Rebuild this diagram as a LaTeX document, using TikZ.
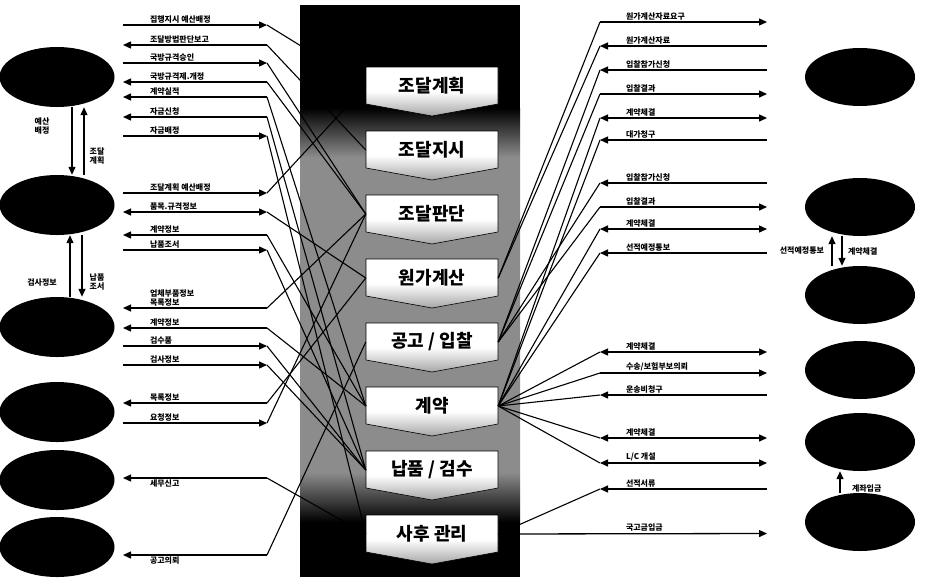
\documentclass[tikz,border=0pt]{standalone}
\usepackage{fontspec}
\setmainfont{Noto Sans CJK KR}
\usetikzlibrary{arrows.meta,shapes.geometric}
\pgfdeclareverticalshading{colfade}{100bp}{color(0bp)=(black); color(25bp)=(black); color(31bp)=(gray!90); color(69bp)=(gray!90); color(75bp)=(black); color(100bp)=(black)}
\tikzset{
  flow/.style={line width=1.3pt, >={Triangle[length=8pt,width=7pt]}},
  feed/.style={line width=1.1pt},
  flowlab/.style={font=\bfseries\fontsize{8}{9}\selectfont, inner sep=0pt, outer sep=2pt, align=left},
  stagebox/.style={font=\bfseries\fontsize{18}{19}\selectfont, inner sep=0pt, minimum width=132pt, minimum height=37pt},
  party/.style={ellipse, fill=black, minimum width=115pt, minimum height=60pt, inner sep=0pt},
}
\begin{document}
\begin{tikzpicture}[x=1pt,y=-1pt]
  \useasboundingbox (0,0) rectangle (925,579);
  % centre column
  \fill[black] (300,5) rectangle (520,577);
  \shade[shading=colfade] (300,108) rectangle (520,522);
  % stages
  \foreach \t/\txt [count=\i] in {67/조달계획,131/조달지시,195/조달판단,259/원가계산,323/{공고 / 입찰},387/계약,451/{납품 / 검수},515/{사후 관리}} {
    \shadedraw[top color=white, bottom color=gray!70, middle color=white, draw=black, line width=0.6pt]
      (366,\t) -- (498,\t) -- (498,\t+37) -- (432,\t+49) -- (366,\t+37) -- cycle;
    \node[stagebox] (s\i) at (432,\t+19) {\txt};
  }
  % parties
  \node[party] (lp1) at (57,77) {};
  \node[party] (lp2) at (57,205) {};
  \node[party] (lp3) at (57,327) {};
  \node[party] (lp4) at (57,412) {};
  \node[party] (lp5) at (57,480) {};
  \node[party] (lp6) at (57,547) {};
  \node[party, minimum width=110pt, minimum height=58pt] (rp1) at (860,77) {};
  \node[party, minimum width=110pt, minimum height=58pt] (rp2) at (860,207) {};
  \node[party, minimum width=110pt, minimum height=58pt] (rp3) at (860,295) {};
  \node[party, minimum width=110pt, minimum height=58pt] (rp4) at (860,370) {};
  \node[party, minimum width=110pt, minimum height=58pt] (rp5) at (860,442) {};
  \node[party, minimum width=110pt, minimum height=58pt] (rp6) at (860,522) {};
  % between parties
  \draw[flow,->] ([xshift=15pt]lp1.south) -- ([xshift=15pt]lp2.north);
  \draw[flow,->] ([xshift=27pt]lp2.north) -- ([xshift=27pt]lp1.south);
  \node[flowlab, align=center] (lq1) at (42,126) {예산\\배정};
  \node[flowlab, align=center] (lq2) at (97,156) {조달\\계획};
  \draw[flow,->] ([xshift=13pt]lp3.north) -- ([xshift=13pt]lp2.south);
  \draw[flow,->] ([xshift=25pt]lp2.south) -- ([xshift=25pt]lp3.north);
  \node[flowlab] (lq3) at (42,283) {검사정보};
  \node[flowlab, align=center] (lq4) at (97,282) {납품\\조서};
  \draw[flow,->] ([xshift=-28pt]rp3.north) -- ([xshift=-28pt]rp2.south);
  \draw[flow,->] ([xshift=-18pt]rp2.south) -- ([xshift=-18pt]rp3.north);
  \node[flowlab, anchor=east] (rq1) at (826,251) {선적예정통보};
  \node[flowlab, anchor=west] (rq2) at (846,251) {계약체결};
  \draw[flow,->] ([xshift=-20pt]rp6.north) -- ([xshift=-20pt]rp5.south);
  \node[flowlab, anchor=west] (rq3) at (850,488) {계좌입금};
  % left flows
  \foreach \y/\dir/\pos/\txt/\tgt [count=\n] in {
    25/->/south west/집행지시 예산배정/s1.west,
    45/<-/south west/조달방법판단보고/s2.west,
    63/->/south west/국방규격승인/s3.west,
    82/<-/south west/국방규격제.개정/s3.west,
    97/<-/south west/계약실적/s6.west,
    117/<-/south west/자금신청/s7.west,
    136/->/south west/자금배정/s8.west,
    193/->/south west/조달계획 예산배정/s1.west,
    212/<->/south west/품목.규격정보/s4.west,
    235/<-/south west/계약정보/s6.west,
    250/->/south west/납품조서/s7.west,
    308/<-/south west/{업체부품정보\\목록정보}/s3.west,
    328/<-/south west/계약정보/s6.west,
    346/->/south west/검수품/s7.west,
    365/->/south west/검사정보/s7.west,
    403/<-/south west/목록정보/s4.west,
    423/->/south west/요청정보/s3.west,
    478/<-/north west/세무신고/s8.west,
    555/<-/north west/공고의뢰/s5.west} {
    \coordinate (la\n) at (123,\y);
    \coordinate (lb\n) at (267,\y);
    \node[flowlab, anchor=\pos] (lt\n) at (148,\y) {\txt};
    \draw[flow,\dir] (la\n) -- (lb\n);
    \draw[feed] (lb\n) -- (\tgt);
  }
  % right flows
  \foreach \y/\dir/\txt/\tgt [count=\n] in {
    22/->/원가계산자료요구/s4.east,
    46/<-/원가계산자료/s4.east,
    70/<-/입찰참가신청/s5.east,
    94/->/입찰결과/s5.east,
    118/<->/계약체결/s6.east,
    140/<-/대가청구/s6.east,
    183/<-/입찰참가신청/s5.east,
    207/->/입찰결과/s5.east,
    229/<->/계약체결/s6.east,
    253/<-/선적예정통보/s6.east,
    352/<->/계약체결/s6.east,
    373/->/{수송/보험부보의뢰}/s6.east,
    395/<-/운송비청구/s6.east,
    438/<->/계약체결/s6.east,
    463/<->/{L/C 개설}/s6.east,
    489/<-/선적서류/s8.east} {
    \coordinate (ra\n) at (600,\y);
    \coordinate (rb\n) at (767,\y);
    \node[flowlab, anchor=south west] (rt\n) at (624,\y) {\txt};
    \draw[flow,\dir] (ra\n) -- (rb\n);
    \draw[feed] (ra\n) -- (\tgt);
  }
  \coordinate (rb17) at (767,533.5);
  \draw[flow,->] (s8.east) -- (rb17);
  \node[flowlab, anchor=south west] (rt17) at (624,533.5) {국고금입금};
\end{tikzpicture}
\end{document}
